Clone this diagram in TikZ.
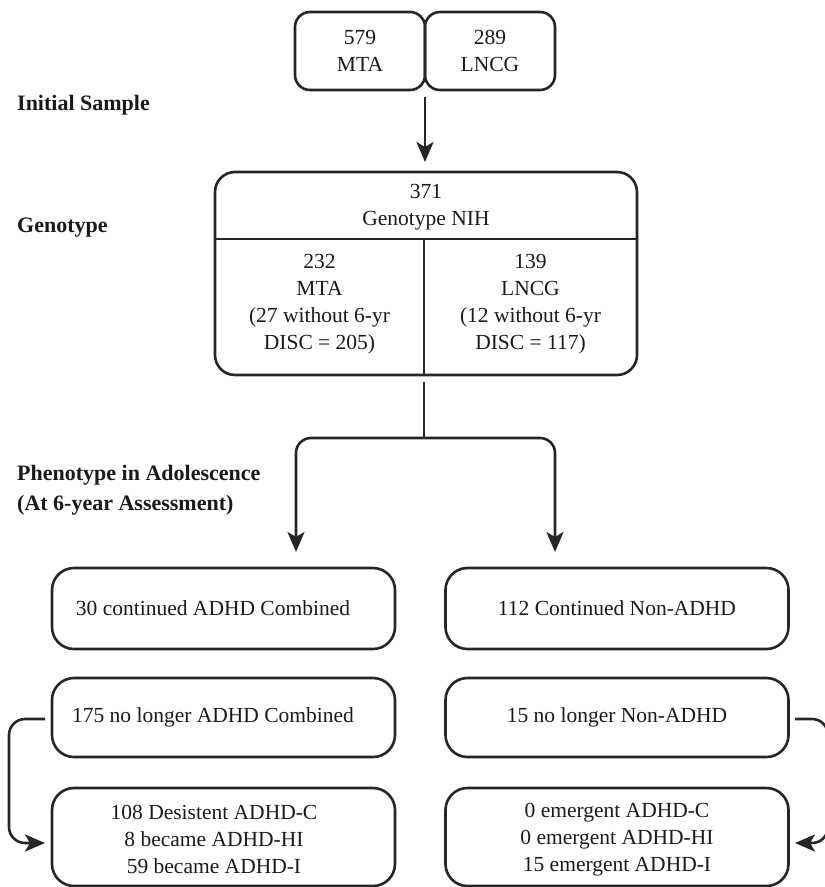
\documentclass[tikz,border=0pt]{standalone}
\usepackage{fontspec}
\setmainfont{Liberation Serif}
\usetikzlibrary{arrows.meta}
\definecolor{lc}{HTML}{262626}
\definecolor{tc}{HTML}{1A1A1A}
\begin{document}
\begin{tikzpicture}[x=1pt,y=-1pt,
  txt/.style={text=tc, inner sep=0pt, align=center, font=\fontsize{21.5pt}{27pt}\selectfont},
  lbl/.style={text=tc, inner sep=0pt, align=left, anchor=west, font=\fontsize{22pt}{30pt}\selectfont\bfseries},
  sbox/.style={draw=lc, line width=2.6pt, rounded corners=15pt, inner sep=0pt, outer sep=0pt, txt},
  gbox/.style={draw=lc, line width=2.6pt, rounded corners=20pt, inner sep=0pt, outer sep=0pt},
  rbox/.style={draw=lc, line width=2.6pt, rounded corners=22pt, inner sep=0pt, outer sep=0pt, txt, minimum width=343pt},
  wire/.style={draw=lc, line width=2.6pt},
  arr/.style={wire, -{Stealth[length=20pt,width=17pt,inset=5pt]}}
]
\useasboundingbox (0,0) rectangle (825,887);

% labels
\node[lbl] (lab1) at (17,105) {Initial Sample};
\node[lbl] (lab2) at (17,228) {Genotype};
\node[lbl] (lab3) at (17,490) {Phenotype in Adolescence\\(At 6-year Assessment)};

% top boxes
\node[sbox, minimum width=130pt, minimum height=78pt] (mta) at (360,51) {579\\MTA};
\node[sbox, minimum width=130pt, minimum height=78pt] (lncg) at (490,51) {289\\LNCG};

% genotype box
\node[gbox, minimum width=422pt, minimum height=203pt] (geno) at (426,273.5) {};
\coordinate (dl) at (215,239);
\coordinate (dr) at (637,239);
\coordinate (dt) at (424,239);
\coordinate (db) at (424,375);
\draw[wire] (dl) -- (dr);
\draw[wire] (dt) -- (db);
\node[txt] (gtop) at (426,207.5) {371\\Genotype NIH};
\node[txt] (gleft) at (319.5,304) {232\\MTA\\(27 without 6-yr\\DISC = 205)};
\node[txt] (gright) at (530.5,304) {139\\LNCG\\(12 without 6-yr\\DISC = 117)};

% top arrow
\coordinate (ts) at (425,97);
\coordinate (ga) at (425,162);
\draw[arr] (ts) -- (ga);

% branch
\coordinate (gs) at (424,382);
\coordinate (br) at (424,438);
\coordinate (la) at (296,552);
\coordinate (ra) at (555,552);
\draw[wire] (gs) -- (br);
\draw[arr, rounded corners=15pt] (br) -| (la);
\draw[arr, rounded corners=15pt] (br) -| (ra);

% rows: boxes
\node[rbox, minimum height=81pt] (c1) at (223.5,608.5) {};
\node[rbox, minimum height=81pt] (n1) at (617,608.5) {112 Continued Non-ADHD};
\node[rbox, minimum height=79pt] (c2) at (223.5,717.5) {};
\node[rbox, minimum height=79pt] (n2) at (617,717.5) {15 no longer Non-ADHD};
\node[rbox, minimum height=98pt] (c3) at (223.5,837) {};
\node[rbox, minimum height=98pt] (n3) at (617,837) {};
% rows: texts
\node[txt] (c1t) at (213,608.5) {30 continued ADHD Combined};
\node[txt] (c2t) at (213,717.5) {175 no longer ADHD Combined};
\node[txt] (c3t) at (214,839.5) {108 Desistent ADHD-C\\8 became ADHD-HI\\59 became ADHD-I};
\node[txt] (n3t) at (617,839.5) {0 emergent ADHD-C\\0 emergent ADHD-HI\\15 emergent ADHD-I};

% side connectors
\coordinate (l1) at (45,719);
\coordinate (l2) at (9,843);
\coordinate (l3) at (45,843);
\draw[arr, rounded corners=16pt] (l1) -| (l2) -- (l3);
\coordinate (r1) at (795,719);
\coordinate (r2) at (828,843);
\coordinate (r3) at (795,843);
\draw[arr, rounded corners=16pt] (r1) -| (r2) -- (r3);
\end{tikzpicture}
\end{document}
